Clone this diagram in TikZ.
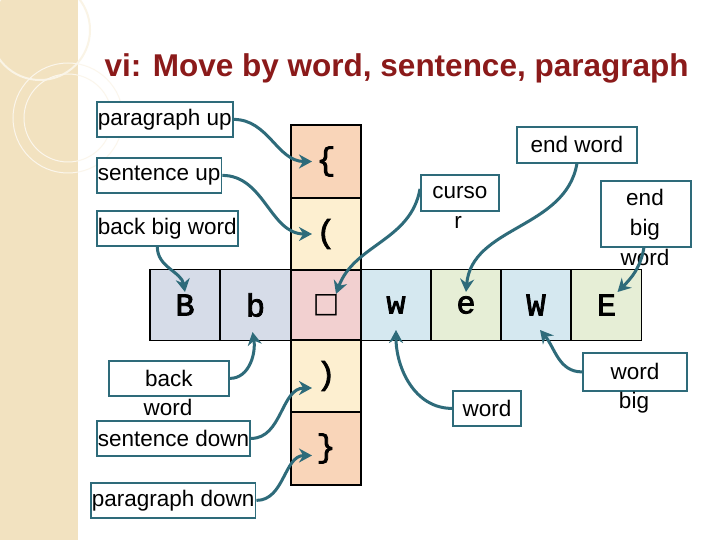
\documentclass[tikz,border=0pt]{standalone}
\usepackage{fontspec}
\setmainfont{Liberation Sans}
\newfontfamily\cellfont[FakeBold=2.5]{Liberation Mono}
\newfontfamily\symfont{DejaVu Sans}
\usetikzlibrary{arrows.meta}
\definecolor{teal1}{HTML}{2E6B7A}
\definecolor{strip}{HTML}{F2E2C0}
\definecolor{cB}{HTML}{D6DCE8}
\definecolor{cC}{HTML}{F2D0D0}
\definecolor{cW}{HTML}{D5E8F0}
\definecolor{cE}{HTML}{E6EED6}
\definecolor{cP}{HTML}{F9D5B9}
\definecolor{cS}{HTML}{FDEFD0}
\definecolor{ttl}{HTML}{8B1A1A}
\tikzset{
 cell/.style={draw=black,line width=1.2pt,minimum width=70pt,minimum height=71pt,inner sep=0pt,font=\cellfont\fontsize{32}{34}\selectfont},
 lbl/.style={draw=teal1,line width=1.8pt,fill=white,inner sep=1pt,minimum height=35pt,anchor=north west,font=\fontsize{22.5}{26}\selectfont},
 txt/.style={font=\fontsize{22.5}{26}\selectfont,inner sep=0pt},
 arr/.style={teal1,line width=3pt,-{Stealth[length=13pt,width=14pt]}}
}
\begin{document}
\begin{tikzpicture}[x=1pt,y=-1pt]
\useasboundingbox (0,0) rectangle (720,540);
\fill[white] (0,0) rectangle (720,540);
\fill[strip] (0,0) rectangle (78,540);
\draw[white!60!strip,line width=2pt] (40,30) circle (50);
\draw[white!70!strip,line width=1pt] (68,118) circle (55);
\draw[white!70!strip,line width=1pt] (68,118) circle (44);
\node[font=\bfseries\fontsize{31.5}{34}\selectfont,text=ttl,anchor=west] (title) at (101,68) {vi: Move by word, sentence, paragraph};
% cells
\node[cell,fill=cB] (B) at (185,305) {B};
\node[cell,fill=cB] (b) at (255.5,305) {b};
\node[cell,fill=cC,font=\symfont\fontsize{28}{30}\selectfont] (c) at (326,305) {□};
\node[cell,fill=cW] (w) at (396,305) {w};
\node[cell,fill=cE] (e) at (466,305) {e};
\node[cell,fill=cW] (W) at (536,305) {W};
\node[cell,fill=cE] (E) at (606.5,305) {E};
\node[cell,fill=cP,minimum height=73pt] (pu) at (326,161.5) {\{};
\node[cell,fill=cS,minimum height=72pt] (su) at (326,234) {(};
\node[cell,fill=cS,minimum height=72pt] (sd) at (326,376) {)};
\node[cell,fill=cP,minimum height=73pt] (pd) at (326,448.5) {\}};
% labels
\node[lbl] (lpu) at (96,101) {paragraph up};
\node[lbl] (lsu) at (96,157) {sentence up};
\node[lbl] (lbb) at (96,210) {back big word};
\node[lbl,minimum width=120pt] (lbw) at (108,360) {back};
\node[txt] (lbw2) at (168,407) {word};
\node[lbl] (lsd) at (96,420) {sentence down};
\node[lbl] (lpd) at (90,482) {paragraph down};
\node[lbl,minimum width=78pt,minimum height=36pt] (lcu) at (420,174) {curso};
\node[txt] (lcu2) at (458,222) {r};
\node[lbl,minimum width=120pt,minimum height=36pt] (lew) at (516,126) {end word};
\node[lbl,minimum width=90pt,minimum height=66pt] (leb) at (600,180) {};
\node[txt,align=center] (leb2) at (645,227) {end\\[4pt]big\\[4pt]word};
\node[lbl,minimum width=68pt] (lw) at (452,390) {word};
\node[lbl,minimum width=104pt,minimum height=38pt] (lwb) at (582,352) {word};
\node[txt] (lwb2) at (634,403) {big};
% arrows
\draw[arr] (lpu.east) to[out=0,in=180] ([xshift=-14pt]pu.center);
\draw[arr] (lsu.east) to[out=0,in=180] ([xshift=-14pt]su.center);
\draw[arr] ([xshift=-10pt]lbb.south) to[out=-90,in=100] ([yshift=13pt]B.center);
\draw[arr] ([yshift=4pt]lcu.west) to[out=-100,in=70] ([xshift=10pt,yshift=11pt]c.center);
\draw[arr] (lew.south) to[out=-100,in=85] ([yshift=13pt]e.center);
\draw[arr] ([xshift=-2pt]leb.south) to[out=-100,in=45] ([xshift=11pt,yshift=13pt]E.center);
\draw[arr] (lbw.east) to[out=0,in=-80] ([xshift=-3pt,yshift=-27pt]b.center);
\draw[arr] (lsd.east) to[out=0,in=180] ([xshift=-14pt,yshift=-12pt]sd.center);
\draw[arr] (lpd.east) to[out=0,in=180] ([xshift=-14pt,yshift=-7pt]pd.center);
\draw[arr] (lw.west) to[out=180,in=-90] ([yshift=-25pt]w.center);
\draw[arr] (lwb.west) to[out=180,in=-50] ([xshift=4pt,yshift=-25pt]W.center);
\end{tikzpicture}
\end{document}
